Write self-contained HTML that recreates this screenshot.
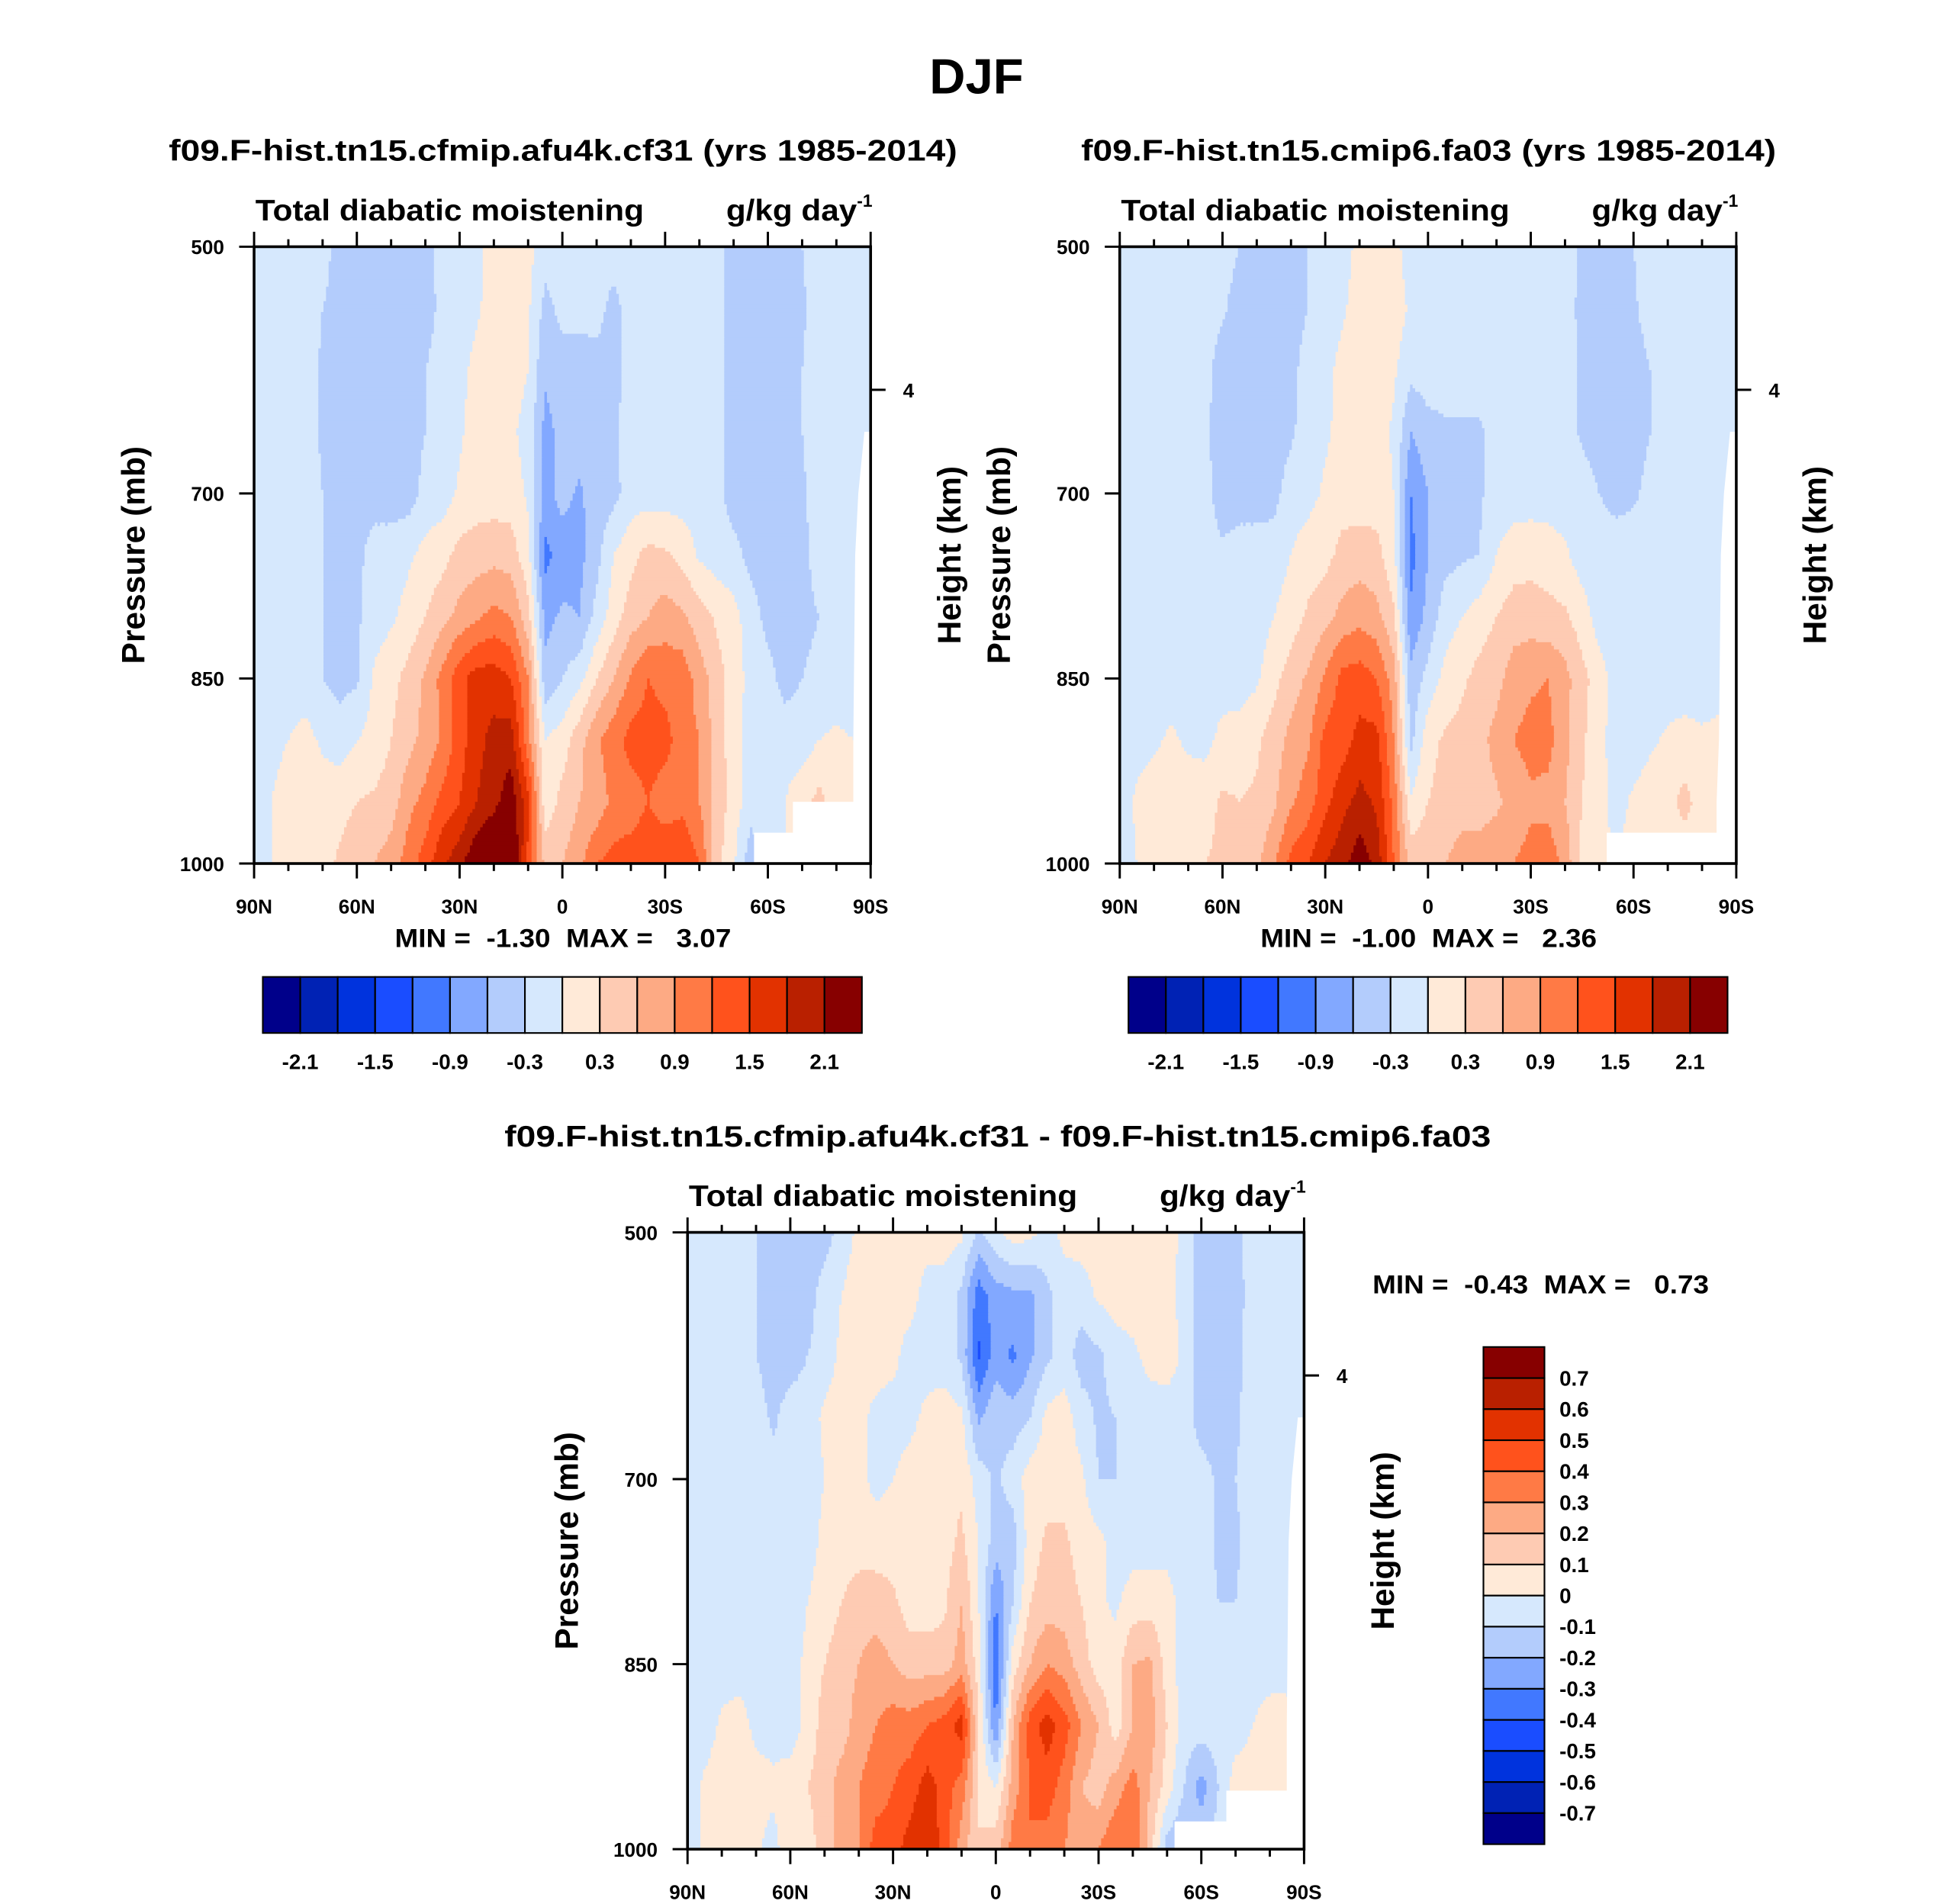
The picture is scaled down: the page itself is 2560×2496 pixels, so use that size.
<!DOCTYPE html>
<html><head><meta charset="utf-8"><title>DJF Total diabatic moistening</title>
<style>html,body{margin:0;padding:0;background:#fff}svg{display:block}text{font-family:"Liberation Sans",Arial,sans-serif;font-weight:bold;fill:#000}</style>
</head><body>
<svg id="fig" xmlns="http://www.w3.org/2000/svg" width="2560" height="2496" viewBox="0 0 1568 1528" preserveAspectRatio="none">
<rect x="0" y="0" width="1568" height="1528" fill="#fff"/>
<text x="784" y="75" font-size="40" text-anchor="middle">DJF</text>
<text x="452" y="129" font-size="24" text-anchor="middle" textLength="633" lengthAdjust="spacingAndGlyphs">f09.F-hist.tn15.cfmip.afu4k.cf31 (yrs 1985-2014)</text>
<text x="1147" y="129" font-size="24" text-anchor="middle" textLength="558" lengthAdjust="spacingAndGlyphs">f09.F-hist.tn15.cmip6.fa03 (yrs 1985-2014)</text>
<text x="801" y="920" font-size="24" text-anchor="middle" textLength="792" lengthAdjust="spacingAndGlyphs">f09.F-hist.tn15.cfmip.afu4k.cf31 - f09.F-hist.tn15.cmip6.fa03</text>
<g id="layer"></g>
</svg>
<script>
// ---------- data ----------
const lats = [90,85,80,75,70,65,60,55,50,45,40,35,30,25,20,15,10,5,0,-5,-10,-15,-20,-25,-30,-35,-40,-45,-50,-55,-60,-65,-70,-75,-80,-85,-90];
const pressures = [500,550,600,650,700,750,800,850,900,950,1000];
const colors = ["#00008a","#0022b4","#0033dd","#1a4dff","#4178ff","#82a8ff","#b3ccfc","#d6e8fd","#ffead8","#fecbb3","#fdaa84","#ff7a45","#ff521c","#e23200","#b92000","#870000"];
const levelsTop = [-2.1,-1.8,-1.5,-1.2,-0.9,-0.6,-0.3,0,0.3,0.6,0.9,1.2,1.5,1.8,2.1];
const levelsDiff = [-0.7,-0.6,-0.5,-0.4,-0.3,-0.2,-0.1,0,0.1,0.2,0.3,0.4,0.5,0.6,0.7];
const cbTopLabels = ["-2.1","-1.5","-0.9","-0.3","0.3","0.9","1.5","2.1"];
const cbDiffLabels = ["0.7","0.6","0.5","0.4","0.3","0.2","0.1","0","-0.1","-0.2","-0.3","-0.4","-0.5","-0.6","-0.7"];
const xTickLats = [90,60,30,0,-30,-60,-90];
const xTickLabels = ["90N","60N","30N","0","30S","60S","90S"];
const yTickP = [500,700,850,1000];
const yTickLabels = ["500","700","850","1000"];
const heightTickP = [616];
const heightTickLabels = ["4"];
const minmax1 = ["-1.30","3.07"];
const minmax2 = ["-1.00","2.36"];
const minmax3 = ["-0.43","0.73"];

const field1 = [
[-0.15,-0.15,-0.15,-0.15,-0.15,-0.45,-0.45,-0.45,-0.45,-0.45,-0.45,-0.15,-0.15,-0.1,0.15,0.15,0.1,-0.15,-0.15,-0.15,-0.15,-0.15,-0.15,-0.15,-0.15,-0.15,-0.15,-0.15,-0.45,-0.45,-0.45,-0.45,-0.3,-0.15,-0.15,-0.15,-0.15],
[-0.15,-0.15,-0.15,-0.15,-0.3,-0.45,-0.45,-0.45,-0.45,-0.45,-0.45,-0.2,-0.15,-0.05,0.15,0.15,0.05,-0.4,-0.2,-0.2,-0.2,-0.4,-0.15,-0.15,-0.15,-0.15,-0.15,-0.15,-0.45,-0.45,-0.45,-0.45,-0.35,-0.15,-0.15,-0.15,-0.15],
[-0.15,-0.15,-0.15,-0.15,-0.35,-0.45,-0.45,-0.45,-0.45,-0.45,-0.3,-0.15,-0.1,0.1,0.15,0.15,0.0,-0.55,-0.45,-0.45,-0.4,-0.4,-0.2,-0.15,-0.15,-0.15,-0.15,-0.15,-0.45,-0.45,-0.45,-0.45,-0.3,-0.15,-0.15,-0.15,-0.15],
[-0.15,-0.15,-0.15,-0.15,-0.35,-0.45,-0.45,-0.45,-0.45,-0.45,-0.3,-0.15,-0.05,0.15,0.15,0.05,-0.1,-0.7,-0.5,-0.45,-0.4,-0.35,-0.15,-0.15,-0.15,-0.15,-0.15,-0.15,-0.45,-0.45,-0.45,-0.45,-0.3,-0.15,-0.15,-0.15,-0.15],
[-0.15,-0.15,-0.15,-0.15,-0.3,-0.45,-0.45,-0.45,-0.45,-0.45,-0.2,-0.15,0.05,0.15,0.15,0.15,-0.05,-0.7,-0.5,-0.65,-0.45,-0.4,-0.15,-0.15,-0.15,-0.15,-0.15,-0.2,-0.45,-0.45,-0.45,-0.45,-0.35,-0.15,-0.15,-0.15,-0.15],
[-0.15,-0.15,-0.15,-0.15,-0.3,-0.45,-0.4,-0.15,-0.15,-0.05,0.1,0.2,0.4,0.45,0.5,0.45,0.1,-1.0,-0.75,-0.7,-0.4,0.0,0.2,0.4,0.35,0.2,-0.05,-0.15,-0.2,-0.4,-0.45,-0.45,-0.4,-0.15,-0.15,-0.15,-0.15],
[-0.15,-0.15,-0.15,-0.15,-0.3,-0.45,-0.35,-0.15,-0.05,0.1,0.3,0.5,0.7,0.85,1.0,0.9,0.4,-0.7,-0.55,-0.6,-0.2,0.15,0.45,0.6,0.75,0.65,0.45,0.25,0.1,-0.15,-0.4,-0.45,-0.4,-0.3,-0.15,-0.15,-0.15],
[-0.15,-0.15,-0.15,-0.15,-0.3,-0.4,-0.35,0.05,0.2,0.4,0.65,1.0,1.4,1.65,1.65,1.5,0.9,-0.5,-0.3,-0.1,0.3,0.6,0.95,1.2,1.1,1.1,0.75,0.45,0.15,-0.1,-0.2,-0.4,-0.3,-0.2,-0.15,-0.15,-0.15],
[-0.15,-0.1,0.0,0.1,-0.05,-0.15,0.0,0.1,0.3,0.5,0.7,0.95,1.35,1.7,1.9,1.95,1.0,0.0,0.15,0.5,0.85,1.1,1.3,1.35,1.3,1.05,0.9,0.45,0.15,-0.15,-0.15,-0.15,-0.15,0.0,0.05,0.0,-0.15],
[-0.15,0.0,0.15,0.15,0.15,0.2,0.3,0.35,0.45,0.8,1.0,1.3,1.5,1.8,2.0,2.3,1.6,0.1,0.4,0.6,0.7,1.0,1.05,1.2,1.05,1.1,0.9,0.5,0.15,-0.15,-0.15,0.0,0.2,0.4,0.15,0.15,0.15],
[-0.15,0.0,0.1,0.2,0.2,0.35,0.5,0.6,0.75,1.05,1.35,1.75,2.0,2.4,2.6,2.6,1.4,0.5,0.6,0.8,1.2,1.3,1.35,1.4,1.45,1.5,1.2,0.4,0.05,-0.5,-0.15,0.0,0.1,0.2,0.1,0.1,0.1]
];
const field2 = [
[-0.15,-0.15,-0.15,-0.15,-0.15,-0.15,-0.15,-0.3,-0.45,-0.45,-0.45,-0.3,-0.15,-0.15,0.1,0.15,0.1,-0.15,-0.15,-0.15,-0.15,-0.15,-0.15,-0.15,-0.15,-0.15,-0.15,-0.35,-0.45,-0.45,-0.3,-0.15,-0.15,-0.15,-0.15,-0.15,-0.15],
[-0.15,-0.15,-0.15,-0.15,-0.15,-0.15,-0.25,-0.45,-0.45,-0.45,-0.45,-0.3,-0.15,-0.05,0.15,0.15,0.15,-0.05,-0.1,-0.15,-0.15,-0.15,-0.15,-0.15,-0.15,-0.15,-0.15,-0.4,-0.45,-0.45,-0.35,-0.15,-0.15,-0.15,-0.15,-0.15,-0.15],
[-0.15,-0.15,-0.15,-0.15,-0.15,-0.2,-0.45,-0.45,-0.45,-0.45,-0.4,-0.15,-0.1,0.1,0.15,0.15,0.05,-0.2,-0.15,-0.15,-0.15,-0.15,-0.15,-0.15,-0.15,-0.15,-0.15,-0.35,-0.45,-0.45,-0.45,-0.3,-0.15,-0.15,-0.15,-0.15,-0.15],
[-0.15,-0.15,-0.15,-0.15,-0.15,-0.25,-0.45,-0.45,-0.45,-0.45,-0.35,-0.15,-0.05,0.1,0.15,0.15,-0.05,-0.6,-0.4,-0.35,-0.35,-0.35,-0.15,-0.15,-0.15,-0.15,-0.15,-0.35,-0.45,-0.45,-0.45,-0.3,-0.15,-0.15,-0.15,-0.15,-0.15],
[-0.15,-0.15,-0.15,-0.15,-0.15,-0.2,-0.45,-0.45,-0.45,-0.4,-0.15,-0.1,0.05,0.15,0.15,0.15,0.0,-0.9,-0.6,-0.4,-0.35,-0.35,-0.15,-0.15,-0.15,-0.15,-0.15,-0.15,-0.3,-0.4,-0.35,-0.2,-0.15,-0.15,-0.15,-0.15,-0.15],
[-0.15,-0.15,-0.15,-0.15,-0.15,-0.15,-0.25,-0.15,-0.15,-0.15,0.0,0.15,0.2,0.4,0.45,0.4,0.1,-1.0,-0.6,-0.4,-0.35,-0.3,0.0,0.15,0.2,0.15,0.05,-0.15,-0.15,-0.15,-0.15,-0.15,-0.15,-0.15,-0.15,-0.15,-0.15],
[-0.15,-0.15,-0.15,-0.15,-0.15,-0.15,-0.25,-0.15,-0.15,0.0,0.15,0.35,0.5,0.7,0.8,0.7,0.35,-0.85,-0.5,-0.15,0.0,0.15,0.3,0.45,0.45,0.4,0.35,0.15,-0.15,-0.15,-0.15,-0.15,-0.15,-0.15,-0.15,-0.15,-0.15],
[-0.15,-0.15,-0.15,-0.15,-0.15,-0.15,-0.15,-0.15,-0.05,0.2,0.45,0.65,0.95,1.3,1.35,1.2,0.75,-0.5,-0.2,0.1,0.25,0.4,0.5,0.75,0.85,0.9,0.7,0.4,0.15,-0.15,-0.15,-0.15,-0.15,-0.15,-0.15,-0.15,-0.15],
[-0.15,-0.1,-0.05,0.05,-0.05,-0.1,0.1,0.15,0.25,0.45,0.7,0.85,1.3,1.35,1.6,1.6,0.9,-0.4,0.2,0.35,0.4,0.5,0.7,0.9,1.0,1.0,0.7,0.35,0.1,-0.15,-0.15,-0.05,0.05,0.1,0.05,0.1,0.0],
[-0.15,0.05,0.15,0.15,0.15,0.2,0.35,0.3,0.35,0.55,0.85,1.05,1.4,1.7,1.9,1.75,1.1,0.05,0.3,0.4,0.45,0.5,0.55,0.7,0.85,0.8,0.6,0.3,0.1,-0.1,0.05,0.15,0.2,0.4,0.15,0.1,0.1],
[-0.15,0.0,0.1,0.2,0.25,0.3,0.35,0.4,0.55,0.85,1.3,1.5,1.8,2.0,2.3,2.0,1.2,0.5,0.5,0.6,0.75,0.7,0.8,0.9,1.0,1.1,0.8,0.2,0.05,0.0,0.1,0.1,0.1,0.1,0.1,0.1,0.1]
];
const field3 = [
[-0.05,-0.05,-0.05,-0.05,-0.1,-0.15,-0.15,-0.15,-0.15,-0.05,0.02,0.05,0.05,0.05,0.05,0.05,0.02,-0.12,-0.02,0.05,0.03,-0.03,0.03,0.05,0.05,0.05,0.05,0.05,0.05,-0.03,-0.15,-0.15,-0.13,-0.05,-0.05,-0.05,-0.05],
[-0.05,-0.05,-0.05,-0.05,-0.1,-0.15,-0.15,-0.15,-0.05,0.0,0.05,0.05,0.05,0.05,-0.05,-0.05,-0.12,-0.35,-0.25,-0.22,-0.22,-0.12,-0.05,-0.05,0.02,0.05,0.05,0.05,0.05,-0.05,-0.15,-0.15,-0.15,-0.05,-0.05,-0.05,-0.05],
[-0.05,-0.05,-0.05,-0.05,-0.1,-0.15,-0.15,-0.1,-0.05,0.02,0.05,0.05,0.03,-0.05,-0.05,-0.05,-0.12,-0.42,-0.25,-0.32,-0.22,-0.12,-0.05,-0.15,-0.12,-0.05,-0.02,0.03,0.05,-0.02,-0.15,-0.15,-0.13,-0.05,-0.05,-0.05,-0.05],
[-0.05,-0.05,-0.05,-0.05,-0.05,-0.12,-0.05,-0.05,0.02,0.05,0.03,-0.03,-0.05,-0.03,0.03,0.05,0.02,-0.22,-0.12,-0.15,-0.1,0.03,0.05,-0.05,-0.12,-0.1,-0.05,-0.05,-0.05,-0.05,-0.15,-0.15,-0.12,-0.05,-0.05,-0.05,-0.05],
[-0.05,-0.05,-0.05,-0.05,-0.05,-0.05,-0.08,-0.05,0.0,0.05,0.03,-0.03,0.0,0.05,0.05,0.1,0.08,-0.05,-0.12,-0.05,0.05,0.05,0.05,0.02,-0.1,-0.1,-0.05,-0.05,-0.05,-0.05,-0.05,-0.12,-0.1,-0.05,-0.05,-0.05,-0.05],
[-0.05,-0.05,-0.05,-0.05,-0.05,-0.05,-0.05,-0.05,0.03,0.05,0.05,0.05,0.05,0.05,0.05,0.06,0.12,0.0,-0.15,-0.15,0.05,0.12,0.12,0.05,0.03,-0.05,-0.05,-0.05,-0.05,-0.05,-0.05,-0.12,-0.12,-0.05,-0.05,-0.05,-0.05],
[-0.05,-0.05,-0.05,-0.05,-0.05,-0.05,-0.08,0.0,0.05,0.1,0.15,0.15,0.12,0.05,0.05,0.08,0.2,0.0,-0.3,-0.1,0.1,0.15,0.15,0.1,0.02,-0.02,0.05,0.05,0.05,-0.05,-0.05,-0.1,-0.1,-0.05,-0.05,-0.05,-0.05],
[-0.05,-0.05,-0.05,-0.05,-0.05,-0.1,-0.05,0.03,0.1,0.15,0.2,0.25,0.2,0.15,0.15,0.15,0.25,0.05,-0.4,0.05,0.2,0.3,0.25,0.15,0.05,0.05,0.2,0.22,0.05,-0.05,-0.05,-0.08,-0.05,-0.05,-0.05,-0.05,-0.05],
[-0.05,-0.05,0.02,0.05,-0.03,-0.05,-0.05,0.03,0.15,0.15,0.25,0.3,0.35,0.35,0.4,0.45,0.55,0.1,-0.3,0.2,0.45,0.55,0.45,0.3,0.2,0.05,0.2,0.25,0.1,-0.05,-0.05,-0.05,-0.05,0.0,0.05,0.05,0.02],
[-0.05,0.02,0.05,0.05,0.05,0.03,0.05,0.1,0.15,0.25,0.3,0.35,0.4,0.45,0.55,0.45,0.35,0.1,0.0,0.25,0.4,0.45,0.35,0.2,0.15,0.25,0.35,0.2,0.05,-0.1,-0.25,-0.1,0.05,0.05,0.05,0.05,0.05],
[-0.05,0.02,0.05,0.05,0.02,-0.05,0.1,0.05,0.15,0.25,0.3,0.45,0.45,0.55,0.6,0.45,0.25,0.1,0.15,0.35,0.4,0.35,0.3,0.25,0.3,0.4,0.4,0.15,-0.15,-0.2,-0.1,-0.05,0.0,0.05,0.05,0.05,0.05]
];

// ---------- drawing ----------
const NS = "http://www.w3.org/2000/svg";
const layer = document.getElementById("layer");
function mk(tag, attrs, parent) {
  const e = document.createElementNS(NS, tag);
  for (const k in attrs) e.setAttribute(k, attrs[k]);
  (parent || layer).appendChild(e);
  return e;
}
function makeAxes(P) {
  return {
    x: lat => P.x + (90 - lat) / 180 * P.w,
    y: p => P.y + (p - 500) / 500 * P.h
  };
}
function sample(field, lat, p) {
  let fi = (90 - lat) / 5, fj = (p - 500) / 50;
  fi = Math.max(0, Math.min(lats.length - 1.0001, fi));
  fj = Math.max(0, Math.min(pressures.length - 1.0001, fj));
  const i = Math.floor(fi), j = Math.floor(fj), a = fi - i, b = fj - j;
  return (field[j][i] * (1 - a) + field[j][i + 1] * a) * (1 - b) + (field[j + 1][i] * (1 - a) + field[j + 1][i + 1] * a) * b;
}
function classOf(v, levels) {
  let c = 0;
  for (const l of levels) if (v >= l) c++;
  return c;
}
function drawPanel(P, field, levels, key) {
  const ax = makeAxes(P);
  const g = mk("g", {});
  
  
  const NX = 240, NY = 170;
  for (let r = 0; r < NY; r++) {
    const p0 = 500 + r / NY * 500, p1 = 500 + (r + 1) / NY * 500, pm = (p0 + p1) / 2;
    let runStart = 0, runCls = -1;
    for (let c = 0; c <= NX; c++) {
      let cls = -2;
      if (c < NX) {
        const lat = 90 - (c + 0.5) / NX * 180;
        cls = classOf(sample(field, lat, pm), levels);
      }
      if (cls !== runCls) {
        if (runCls >= 0) {
          const latA = 90 - runStart / NX * 180, latB = 90 - c / NX * 180;
          const x0 = ax.x(latA), x1 = ax.x(latB);
          const rc = mk("rect", {x: x0.toFixed(2), y: ax.y(p0).toFixed(2), width: (x1 - x0 + 0.6).toFixed(2), height: (ax.y(p1) - ax.y(p0) + 0.6).toFixed(2), fill: colors[runCls]}, g);
          
          
        }
        runStart = c; runCls = cls;
      }
    }
  }
  const m = P.mask;
  const pts = m.map(q => (P.x + q[0] * P.w).toFixed(1) + "," + (P.y + q[1] * P.h).toFixed(1)).join(" ");
  const mp = mk("polygon", {points: pts, fill: "#fff"});
  
  
  const fr = mk("rect", {x: P.x, y: P.y, width: P.w, height: P.h, fill: "none", stroke: "#000", "stroke-width": 2.2});
  
  
  for (let lat = 90; lat >= -90; lat -= 10) {
    const major = lat % 30 === 0, len = major ? 12 : 6, x = ax.x(lat);
    const t1 = mk("line", {x1: x, x2: x, y1: P.y + P.h, y2: P.y + P.h + len, stroke: "#000", "stroke-width": 1.8});
    
    
    const t2 = mk("line", {x1: x, x2: x, y1: P.y, y2: P.y - len, stroke: "#000", "stroke-width": 1.8});
    
    
  }
  xTickLats.forEach((lat, k) => {
    const t = mk("text", {x: ax.x(lat), y: P.y + P.h + 40, "font-size": 16, "text-anchor": "middle"});
    t.textContent = xTickLabels[k];
    
    
  });
  yTickP.forEach((p, k) => {
    const y = ax.y(p);
    const l = mk("line", {x1: P.x - 12, x2: P.x, y1: y, y2: y, stroke: "#000", "stroke-width": 1.8});
    
    
    const t = mk("text", {x: P.x - 24, y: y + 6, "font-size": 16, "text-anchor": "end"});
    t.textContent = yTickLabels[k];
    
    
  });
  heightTickP.forEach((p, k) => {
    const y = ax.y(p);
    const l = mk("line", {x1: P.x + P.w, x2: P.x + P.w + 12, y1: y, y2: y, stroke: "#000", "stroke-width": 1.8});
    
    
    const t = mk("text", {x: P.x + P.w + 26, y: y + 6, "font-size": 16});
    t.textContent = heightTickLabels[k];
    
    
  });
  const yt = mk("text", {x: 0, y: 0, "font-size": 26, "text-anchor": "middle", transform: "translate(" + (P.x - 88) + "," + (P.y + P.h / 2) + ") rotate(-90)"});
  yt.textContent = "Pressure (mb)";
  
  
  const ht = mk("text", {x: 0, y: 0, "font-size": 26, "text-anchor": "middle", transform: "translate(" + (P.x + P.w + 72) + "," + (P.y + P.h / 2) + ") rotate(-90)"});
  ht.textContent = "Height (km)";
  
  
  const lt = mk("text", {x: P.x + 1, y: P.y - 21, "font-size": 24, textLength: 312, lengthAdjust: "spacingAndGlyphs"});
  lt.textContent = "Total diabatic moistening";
  
  
  const ut = mk("text", {x: P.x + P.w - 116, y: P.y - 21, "font-size": 24, textLength: 105, lengthAdjust: "spacingAndGlyphs"});
  ut.textContent = "g/kg day";
  
  
  const sup = mk("text", {x: P.x + P.w - 11, y: P.y - 32, "font-size": 14});
  sup.textContent = "-1";
  
  
}
function minmaxText(x, y, mm, key) {
  const t = mk("text", {x: x, y: y, "font-size": 21, "text-anchor": "middle", textLength: 270, lengthAdjust: "spacingAndGlyphs", style: "white-space:pre"});
  t.textContent = "MIN =  " + mm[0] + "  MAX =   " + mm[1];
  
  
}
function hColorbar(x0, y0, w, h, key) {
  const g = mk("g", {});
  
  
  const bw = w / colors.length;
  colors.forEach((c, k) => {
    const r = mk("rect", {x: x0 + k * bw, y: y0, width: bw, height: h, fill: c, stroke: "#000", "stroke-width": 1.3}, g);
    
    
  });
  cbTopLabels.forEach((s, k) => {
    const t = mk("text", {x: x0 + (1 + 2 * k) * bw, y: y0 + h + 29, "font-size": 17, "text-anchor": "middle"}, g);
    t.textContent = s;
    
    
  });
}
function vColorbar(x0, y0, w, h) {
  const g = mk("g", {});
  
  
  const bh = h / colors.length;
  colors.slice().reverse().forEach((c, k) => {
    const r = mk("rect", {x: x0, y: y0 + k * bh, width: w, height: bh, fill: c, stroke: "#000", "stroke-width": 1.3}, g);
    
    
  });
  cbDiffLabels.forEach((s, k) => {
    const t = mk("text", {x: x0 + w + 12, y: y0 + (k + 1) * bh + 6, "font-size": 17}, g);
    t.textContent = s;
    
    
  });
}
const maskTop = [[0.811,1],[0.811,0.95],[0.874,0.95],[0.874,0.9],[0.972,0.9],[0.972,0.8],[0.975,0.5],[0.98,0.4],[0.99,0.3],[1,0.3],[1,1]];
const maskTop2 = [[0.79,1],[0.79,0.95],[0.968,0.95],[0.968,0.9],[0.972,0.8],[0.975,0.5],[0.98,0.4],[0.99,0.3],[1,0.3],[1,1]];
const maskDiff = [[0.79,1],[0.79,0.955],[0.874,0.955],[0.874,0.905],[0.972,0.905],[0.972,0.8],[0.975,0.5],[0.98,0.4],[0.99,0.3],[1,0.3],[1,1]];
drawPanel({x: 204, y: 198, w: 495, h: 495, mask: maskTop}, field1, levelsTop, "panel1");
drawPanel({x: 899, y: 198, w: 495, h: 495, mask: maskTop2}, field2, levelsTop, "panel2");
drawPanel({x: 552, y: 989, w: 495, h: 495, mask: maskDiff}, field3, levelsDiff, "panel3");
minmaxText(452, 760, minmax1, "panel1");
minmaxText(1147, 760, minmax2, "panel2");
minmaxText(1237, 1038, minmax3, "panel3");
hColorbar(211, 784, 481, 45, "panel1");
hColorbar(906, 784, 481, 45, "panel2");
vColorbar(1191, 1081, 49, 399);
</script>
</body></html>
